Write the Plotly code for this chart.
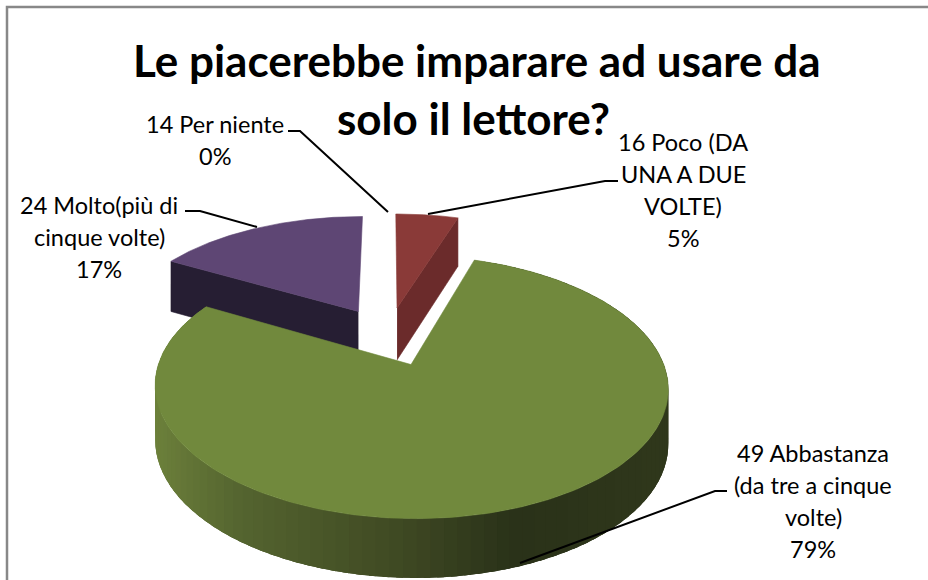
import numpy as np
import plotly.graph_objects as go

# ---- data ----
categories = ["14 Per niente", "16 Poco (DA<br>UNA A DUE<br>VOLTE)",
              "49 Abbastanza<br>(da tre a cinque<br>volte)", "24 Molto(più di<br>cinque volte)"]
values = [0, 5, 79, 17]
title_lines = ["Le piacerebbe imparare ad usare da", "solo il lettore?"]

# ---- style ----
top_colors = ["#888888", "#8A3A38", "#71893D", "#5E4674"]
wall_colors = ["#555555", "#6B2B2B", "#2F381C", "#261E33"]
side_stops = [(152, (110, 130, 60)), (243, (85, 101, 48)), (415, (62, 72, 35)), (520, (42, 50, 25)), (670, (48, 56, 28))]
FONT = "Lato"
# projection of the tilted pie onto the page
CX, CY, A, B, P, EXPL, THICK = 388.0, 336.0, 243.0, 118.0, 0.165, 0.25, 53.0


def project(x, z):
    w = 1 + P * z
    return CX + A * x / w, CY - B * z / w, THICK / np.sqrt(w)


def slice_geometry(frac0, frac1):
    t0, t1 = 2 * np.pi * frac0, 2 * np.pi * frac1
    mid = (t0 + t1) / 2
    ox, oz = EXPL * np.sin(mid), EXPL * np.cos(mid)
    th = np.linspace(t0, t1, 220)
    return ox, oz, ox + np.sin(th), oz + np.cos(th)


total = sum(values)
fracs = np.cumsum([0] + values) / total
fig = go.Figure()


def poly(xs, ys, color, width=0.6):
    fig.add_trace(go.Scatter(x=xs, y=ys, mode="lines", fill="toself", fillcolor=color,
                             line=dict(color=color, width=width), hoverinfo="skip", showlegend=False))


def side_color(x):
    xp = [s[0] for s in side_stops]
    return "rgb(%d,%d,%d)" % tuple(np.interp(x, xp, [s[1][i] for s in side_stops]) for i in range(3))


# draw order: back slices first, the large front slice last
for i in [1, 3, 2]:
    if values[i] == 0:
        continue
    ox, oz, ax, az = slice_geometry(fracs[i], fracs[i + 1])
    ax0, ay0, t0 = project(ox, oz)
    sx, sy, st = project(ax, az)
    if i == 1:    # right-hand wall
        poly([ax0, sx[-1], sx[-1], ax0], [ay0, sy[-1], sy[-1] + st[-1], ay0 + t0], wall_colors[i])
    if i == 3:    # front wall running from the left edge to the apex
        poly([ax0, sx[0], sx[0], ax0], [ay0, sy[0], sy[0] + st[0], ay0 + t0], wall_colors[i])
    if i == 2:    # shaded outer rim, painted in overlapping bands so no seams show
        order = np.arange(len(sx) - 1)
        step = 2
        for k in order[::step]:
            e = min(k + step + 3, len(sx) - 1)
            xs = np.r_[sx[k:e + 1], sx[k:e + 1][::-1]]
            ys = np.r_[sy[k:e + 1], (sy + st)[k:e + 1][::-1]]
            poly(xs, ys, side_color(sx[k]), width=0)
    poly(np.r_[ax0, sx, ax0], np.r_[ay0, sy, ay0], top_colors[i])

# ---- layout furniture ----
label_centres = [(215, 124), (683, 142), (813, 453), (99, 205)]
LINE = 32
annotations = []


def text(x, y, s, size, bold=False):
    annotations.append(dict(x=x, y=y, xref="x", yref="y", text=f"<b>{s}</b>" if bold else s, showarrow=False,
                            font=dict(family=FONT, size=size, color="#000000"), xanchor="center", yanchor="middle"))


for cat, val, (x, y) in zip(categories, values, label_centres):
    for n, line in enumerate(cat.split("<br>") + [f"{val}%"]):
        text(x, y + n * LINE, line, 23.5)
text(477, 60, title_lines[0], 44, True)
text(473, 118, title_lines[1], 44, True)

leaders = ["M288,131 L300,131 L388,212", "M185,211 L200,211 L257,227",
           "M618,181 L605,181 L428,214", "M727,491 L715,491 L520,563"]
shapes = [dict(type="path", path=p, line=dict(color="#000000", width=2), layer="above") for p in leaders]
shapes.append(dict(type="path", path="M7,580 L7,7 L928,7", line=dict(color="#888888", width=2.5), layer="above"))

fig.update_layout(
    width=928, height=580, margin=dict(l=0, r=0, t=0, b=0), autosize=False,
    paper_bgcolor="white", plot_bgcolor="white", showlegend=False,
    xaxis=dict(range=[0, 928], visible=False, fixedrange=True),
    yaxis=dict(range=[580, 0], visible=False, fixedrange=True),
    annotations=annotations, shapes=shapes,
)
fig.write_html("out.html", config={"displayModeBar": False},
               post_script="document.body.style.margin='0';document.body.style.overflow='hidden';")
